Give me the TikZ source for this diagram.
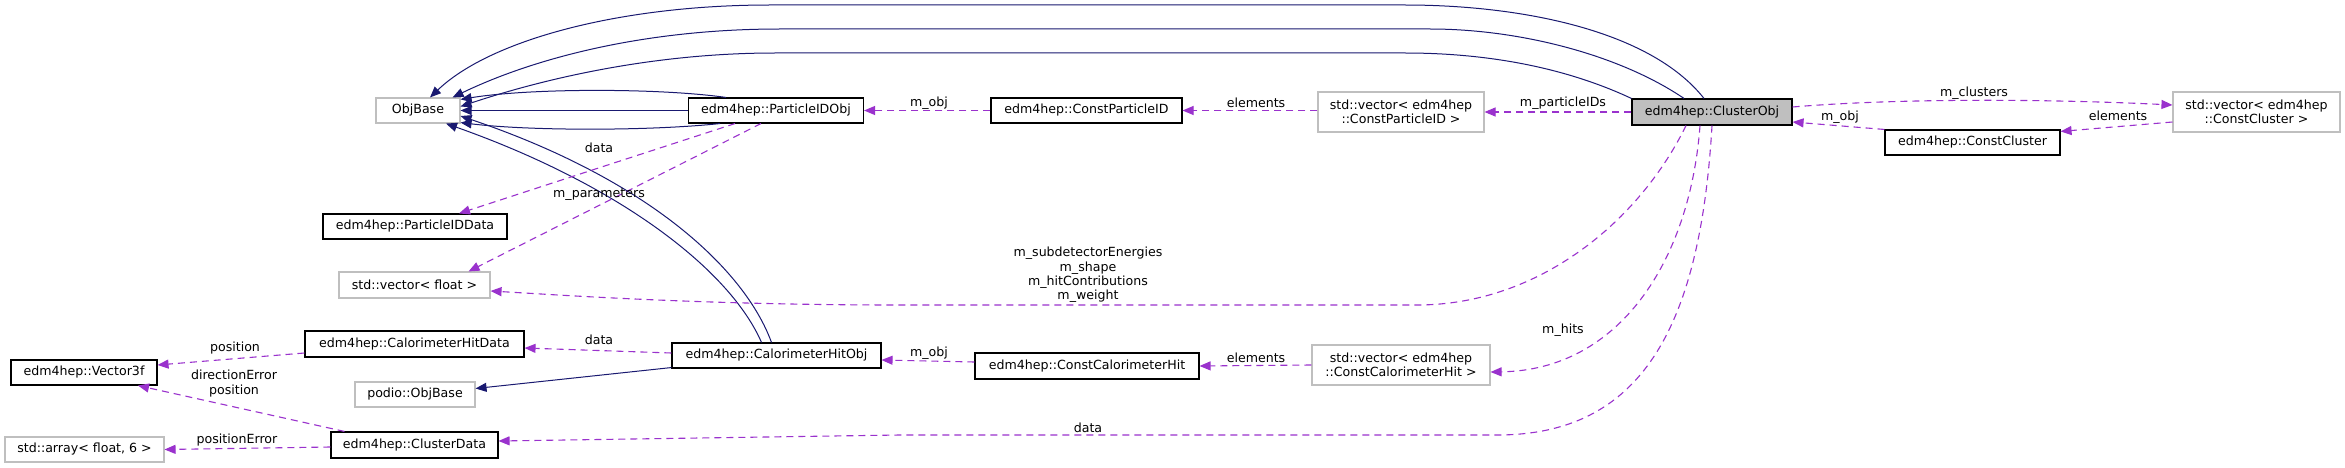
\documentclass[tikz,border=0pt]{standalone}
\usepackage{fontspec}
\setmainfont{DejaVu Sans}
\usetikzlibrary{arrows.meta,calc}
\definecolor{inhcol}{HTML}{191970}
\definecolor{usecol}{HTML}{9A32CD}
\definecolor{grayb}{HTML}{BFBFBF}
\begin{document}
\begin{tikzpicture}[x=1pt,y=-1pt,
  every node/.style={font=\fontsize{12.6}{14.4}\selectfont},
  cls/.style={draw=black,line width=1.1pt,fill=white,inner sep=0pt,minimum height=25pt,align=center},
  ext/.style={draw=grayb,line width=1.1pt,fill=white,inner sep=0pt,minimum height=25pt,align=center},
  inh/.style={draw=inhcol,line width=1pt,-{Triangle[length=11pt,width=9pt]},color=inhcol},
  use/.style={draw=usecol,line width=1.1pt,dash pattern=on 7pt off 5pt,-{Triangle[length=11pt,width=9pt]},color=usecol},
  lbl/.style={inner sep=0pt,align=center}]
\useasboundingbox (0,0) rectangle (2345,468);
\fill[white] (0,0) rectangle (2345,468);
% nodes
\node[ext,minimum width=84pt] (objbase) at (418,110.5) {ObjBase};
\node[cls,minimum width=175pt] (pidobj) at (776,110.5) {edm4hep::ParticleIDObj};
\node[cls,minimum width=184pt] (pidcdata) at (415,226.5) {edm4hep::ParticleIDData};
\node[cls,minimum width=191pt] (cpid) at (1086.5,110.5) {edm4hep::ConstParticleID};
\node[ext,minimum width=166pt,minimum height=40pt] (vcpid) at (1401,112) {std::vector< edm4hep\\::ConstParticleID >};
\node[cls,minimum width=160pt,minimum height=26pt,fill=grayb] (clobj) at (1712,112) {edm4hep::ClusterObj};
\node[ext,minimum width=167pt,minimum height=40pt] (vccl) at (2256.5,112) {std::vector< edm4hep\\::ConstCluster >};
\node[cls,minimum width=175pt] (ccl) at (1972.5,142.5) {edm4hep::ConstCluster};
\node[ext,minimum width=151pt,minimum height=26pt] (vfloat) at (414.5,285) {std::vector< float >};
\node[cls,minimum width=219pt,minimum height=26pt] (chdata) at (414.5,344) {edm4hep::CalorimeterHitData};
\node[cls,minimum width=146pt] (v3f) at (84,372.5) {edm4hep::Vector3f};
\node[ext,minimum width=120pt] (podio) at (415,394.5) {podio::ObjBase};
\node[ext,minimum width=159pt] (arr) at (84.5,449.5) {std::array< float, 6 >};
\node[cls,minimum width=167pt,minimum height=26pt] (cldata) at (414.5,445) {edm4hep::ClusterData};
\node[cls,minimum width=209pt] (chobj) at (776.5,355.5) {edm4hep::CalorimeterHitObj};
\node[cls,minimum width=224pt,minimum height=26pt] (cch) at (1087,366) {edm4hep::ConstCalorimeterHit};
\node[ext,minimum width=178pt,minimum height=40pt] (vcch) at (1401,365) {std::vector< edm4hep\\::ConstCalorimeterHit >};
% inheritance edges
\draw[inh] ($(clobj.north)+(-8,0)$) .. controls (1650,30) and (1520,5) .. (1405,5) -- (770,5) .. controls (620,5) and (490,40) .. ($(objbase.north)+(12,0)$);
\draw[inh] ($(clobj.north)+(-28,0)$) .. controls (1620,55) and (1520,29) .. (1430,29) -- (780,29) .. controls (640,29) and (530,60) .. ($(objbase.north east)+(-8,0)$);
\draw[inh] (clobj.north west) .. controls (1560,65) and (1480,53) .. (1405,53) -- (775,53) .. controls (650,53) and (540,80) .. ($(objbase.east)+(0,-4)$);
\draw[inh] ($(pidobj.north)+(-50,0)$) .. controls (660,88) and (530,88) .. ($(objbase.north east)+(0,2)$);
\draw[inh] (pidobj.west) -- (objbase.east);
\draw[inh] ($(pidobj.south)+(-56,0)$) .. controls (650,131) and (530,131) .. ($(objbase.south east)+(0,-1)$);
\draw[inh] ($(chobj.north)+(-5,0)$) .. controls (745,270) and (650,180) .. ($(objbase.east)+(0,5.5)$);
\draw[inh] ($(chobj.north)+(-15,0)$) .. controls (730,270) and (620,185) .. ($(objbase.south)+(28,0)$);
\draw[inh] ($(chobj.south west)+(0,-1)$) -- ($(podio.east)+(0,-6)$);
% usage edges
\draw[use] ($(pidobj.south)+(-41,0)$) -- ($(pidcdata.north)+(44,0)$);
\draw[use] ($(pidobj.south)+(-15,0)$) -- ($(vfloat.north)+(54,0)$);
\draw[use] (cpid.west) -- (pidobj.east);
\draw[use] ($(vcpid.west)+(0,-1.5)$) -- (cpid.east);
\draw[use] (clobj.west) -- (vcpid.east);
\draw[use] ($(clobj.east)+(0,-5)$) .. controls (1900,98) and (2050,99) .. ($(vccl.west)+(0,-7)$);
\draw[use] (ccl.north west) -- ($(clobj.east)+(0,10)$);
\draw[use] ($(vccl.west)+(0,10)$) -- ($(ccl.north east)+(0,2)$);
\draw[use] ($(clobj.south)+(-26,0)$) .. controls (1640,220) and (1540,305) .. (1417,305) -- (900,305) .. controls (700,305) and (560,295) .. ($(vfloat.east)+(0,6)$);
\draw[use] ($(clobj.south)+(-12,0)$) .. controls (1690,260) and (1620,370) .. ($(vcch.east)+(0,7)$);
\draw[use] (clobj.south) .. controls (1700,330) and (1640,435) .. (1497,435) -- (900,435) -- ($(cldata.east)+(0,-4)$);
\draw[use] (vcch.west) -- (cch.east);
\draw[use] ($(cch.west)+(0,-4)$) -- ($(chobj.east)+(0,4.5)$);
\draw[use] ($(chobj.west)+(0,-2.5)$) -- ($(chdata.east)+(0,4)$);
\draw[use] ($(chdata.west)+(0,9)$) -- ($(v3f.east)+(0,-7.5)$);
\draw[use] ($(cldata.north)+(-70,0)$) -- ($(v3f.south)+(54,0)$);
\draw[use] ($(cldata.west)+(0,2)$) -- (arr.east);
% labels
\node[lbl] (l1) at (599,148) {data};
\node[lbl] (l2) at (599,195) {m\_parameters};
\node[lbl] (l3) at (929,103) {m\_obj};
\node[lbl] (l4) at (1256,103) {elements};
\node[lbl] (l5) at (1563,103) {m\_particleIDs};
\node[lbl] (l6) at (1974,93) {m\_clusters};
\node[lbl] (l7) at (1840,117) {m\_obj};
\node[lbl] (l8) at (2118,116) {elements};
\node[lbl] (l9) at (1088,275) {m\_subdetectorEnergies\\m\_shape\\m\_hitContributions\\m\_weight};
\node[lbl] (l10) at (1563,330) {m\_hits};
\node[lbl] (l11) at (1256,358) {elements};
\node[lbl] (l12) at (929,353) {m\_obj};
\node[lbl] (l13) at (1088,428) {data};
\node[lbl] (l14) at (599,340) {data};
\node[lbl] (l15) at (235,348) {position};
\node[lbl] (l16) at (234,383.5) {directionError\\position};
\node[lbl] (l17) at (237,440) {positionError};
\end{tikzpicture}
\end{document}
